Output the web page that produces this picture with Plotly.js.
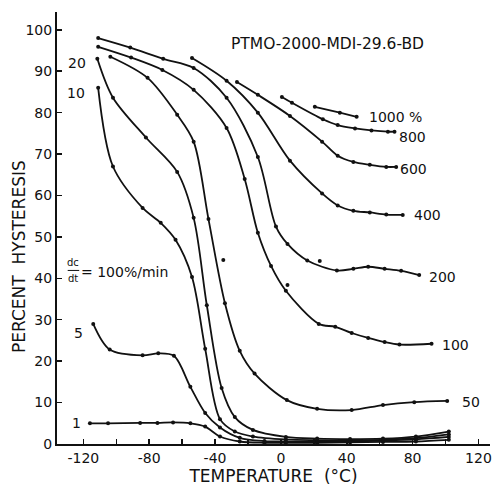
<!DOCTYPE html>
<html>
<head>
<meta charset="utf-8">
<script src="https://cdn.plot.ly/plotly-3.0.1.min.js"></script>
<style>html,body{margin:0;padding:0;background:#fff;}#chart{width:494px;height:490px;}</style>
</head>
<body>
<div id="chart"></div>
<script>
// ---- data (temperature °C, percent hysteresis) ----
const rateLabels = ['1','5','10','20','50','100','200','400','600','800','1000 %'];

const t1 = [-116, -105, -85.5, -75, -65.5, -55, -46, -37, -25, -10, 3, 22, 42, 62, 82, 102];
const v1 = [5, 5, 5.1, 5.1, 5.2, 5, 4.2, 1.8, 0.6, 0.3, 0.3, 0.3, 0.4, 0.5, 0.6, 1.0];

const t5 = [-114, -104, -84, -74.5, -65, -55, -46, -37, -25, -10, 3, 22, 42, 62, 82, 102];
const v5 = [29, 22.8, 21.4, 21.9, 21.3, 13.8, 7.5, 4, 1.5, 0.7, 0.6, 0.5, 0.6, 0.8, 1.1, 1.7];

const t10 = [-111, -102, -84, -73, -64, -54, -46, -37, -28, -17, 3, 22, 42, 62, 82, 102];
const v10 = [86, 67, 57, 53.4, 49.3, 40.3, 23, 6, 3, 1.8, 1.1, 0.9, 0.8, 1.0, 1.4, 2.3];

const t20 = [-111.5, -102, -82, -63, -53, -45, -36, -28, -17, 3, 22, 42, 62, 82, 102];
const v20 = [93, 83.6, 74, 65.7, 54.6, 33.5, 13.5, 6.5, 3.4, 1.7, 1.3, 1.2, 1.3, 1.8, 3.0];

const t50 = [-103.6, -81, -63, -53, -44, -34, -25, -16, 3.6, 22, 43, 62, 81, 101];
const v50 = [93.5, 88.4, 79.5, 73, 54.3, 34, 22.5, 17, 10.6, 8.5, 8.2, 9.4, 10.1, 10.4];

const t100 = [-111, -91, -72, -53, -33, -22, -14, -6, 3, 23, 33, 43, 53, 63, 72, 91.5];
const v100 = [95.9, 93.3, 90.3, 85.5, 76.3, 64, 51, 43, 37, 29, 28.3, 26.8, 25.6, 24.6, 24, 24.2];

const t200 = [-111, -91.5, -71.5, -53, -33, -14, -3, 4, 16, 34, 44, 53, 63, 73, 84];
const v200 = [98, 95.7, 93, 90.8, 83.6, 69.3, 52.5, 48.3, 44.3, 41.9, 42.3, 42.8, 42.3, 41.8, 40.8];

const t400 = [-54, -33, -14, 5.5, 25, 34.5, 44, 54, 64, 74];
const v400 = [93.2, 87.7, 80, 68.4, 60.5, 57.6, 56.3, 55.9, 55.4, 55.3];

const t600 = [-26.7, -14, 5.5, 25, 34.5, 44, 54, 64, 70];
const v600 = [87.4, 84.3, 79.2, 73, 69.6, 68.1, 67.4, 66.9, 66.9];

const t800 = [0.6, 6.7, 25.5, 34.5, 45, 55, 65, 69];
const v800 = [83.8, 82.4, 78.4, 77, 76.2, 75.7, 75.4, 75.4];

const t1000 = [20.6, 35.8, 46];
const v1000 = [81.4, 80, 79];

// scattered measurement points lying off the drawn curves
const strayT = [-35, 23.6, 4];
const strayV = [44.4, 44.2, 38.4];

// curve label anchor points
const labelT = [-120, -119, -118, -117, 108.5, 96.4, 88.5, 79.4, 71, 70.3, 52];
const labelV = [5.1, 26.8, 84.8, 92, 10.1, 23.9, 40.3, 55.3, 66.4, 74.2, 79];

const xTickVals = [-120, -100, -80, -60, -40, -20, 0, 20, 40, 60, 80, 100, 120];
const xTickText = ['-120', '', '-80', '', '-40', '', '0', '', '40', '', '80', '', '120'];
const yTickVals = [0, 10, 20, 30, 40, 50, 60, 70, 80, 90, 100];

// ---- build ----
const series = [[t1,v1],[t5,v5],[t10,v10],[t20,v20],[t50,v50],[t100,v100],[t200,v200],[t400,v400],[t600,v600],[t800,v800],[t1000,v1000]];
const ink = '#111';
const traces = series.map((s, i) => ({
  x: s[0], y: s[1], type: 'scatter', mode: 'lines+markers',
  name: rateLabels[i],
  line: {color: ink, width: 1.8, shape: 'spline', smoothing: 0.9},
  marker: {color: ink, size: 4},
  showlegend: false, hoverinfo: 'skip'
}));
traces.push({x: strayT, y: strayV, type: 'scatter', mode: 'markers',
  marker: {color: ink, size: 4}, showlegend: false, hoverinfo: 'skip'});

const FONT = '"DejaVu Sans", sans-serif';
const annotations = rateLabels.map((lab, i) => ({
  x: labelT[i], y: labelV[i], xref: 'x', yref: 'y', text: lab, showarrow: false,
  xanchor: i < 4 ? 'right' : 'left', yanchor: 'middle',
  font: {family: FONT, size: 14, color: ink}
}));
annotations.push({x: 28, y: 96.6, xref: 'x', yref: 'y', text: 'PTMO-2000-MDI-29.6-BD', showarrow: false,
  font: {family: FONT, size: 15.5, color: ink}});
annotations.push({x: -126, y: 43.8, xref: 'x', yref: 'y', text: 'dc', showarrow: false, xanchor: 'center',
  font: {family: FONT, size: 10, color: ink}});
annotations.push({x: -126, y: 40, xref: 'x', yref: 'y', text: 'dt', showarrow: false, xanchor: 'center',
  font: {family: FONT, size: 10, color: ink}});
annotations.push({x: -122.5, y: 41.6, xref: 'x', yref: 'y', text: '= 100%/min', showarrow: false, xanchor: 'left',
  font: {family: FONT, size: 14, color: ink}});
// y-axis title placed where the original has it (below the plot's vertical centre)
annotations.push({x: -0.088, y: 0.435, xref: 'paper', yref: 'paper', text: 'PERCENT  HYSTERESIS',
  textangle: -90, showarrow: false, xanchor: 'center', yanchor: 'middle',
  font: {family: FONT, size: 17, color: ink}});

const layout = {
  width: 494, height: 490,
  margin: {l: 57, r: 4, t: 12, b: 46},
  paper_bgcolor: '#fff', plot_bgcolor: '#fff',
  font: {family: FONT, size: 14, color: ink},
  xaxis: {
    range: [-136, 127], showline: true, linecolor: ink, linewidth: 2,
    tickmode: 'array', tickvals: xTickVals, ticktext: xTickText,
    ticks: 'inside', ticklen: 5, tickcolor: ink, tickwidth: 1.5,
    showgrid: false, zeroline: false,
    tickfont: {family: FONT, size: 14, color: ink},
    title: {text: 'TEMPERATURE  (°C)', font: {family: FONT, size: 17, color: ink}, standoff: 3}
  },
  yaxis: {
    range: [0, 104.3], showline: true, linecolor: ink, linewidth: 2,
    tickmode: 'array', tickvals: yTickVals,
    ticks: 'inside', ticklen: 5, tickcolor: ink, tickwidth: 1.5,
    showgrid: false, zeroline: false,
    tickfont: {family: FONT, size: 14, color: ink}
  },
  shapes: [{type: 'line', xref: 'x', yref: 'y', x0: -129.5, x1: -122.5, y0: 41.9, y1: 41.9, line: {color: ink, width: 1}}],
  annotations: annotations
};
Plotly.newPlot('chart', traces, layout, {displayModeBar: false, staticPlot: true});
</script>
</body>
</html>
